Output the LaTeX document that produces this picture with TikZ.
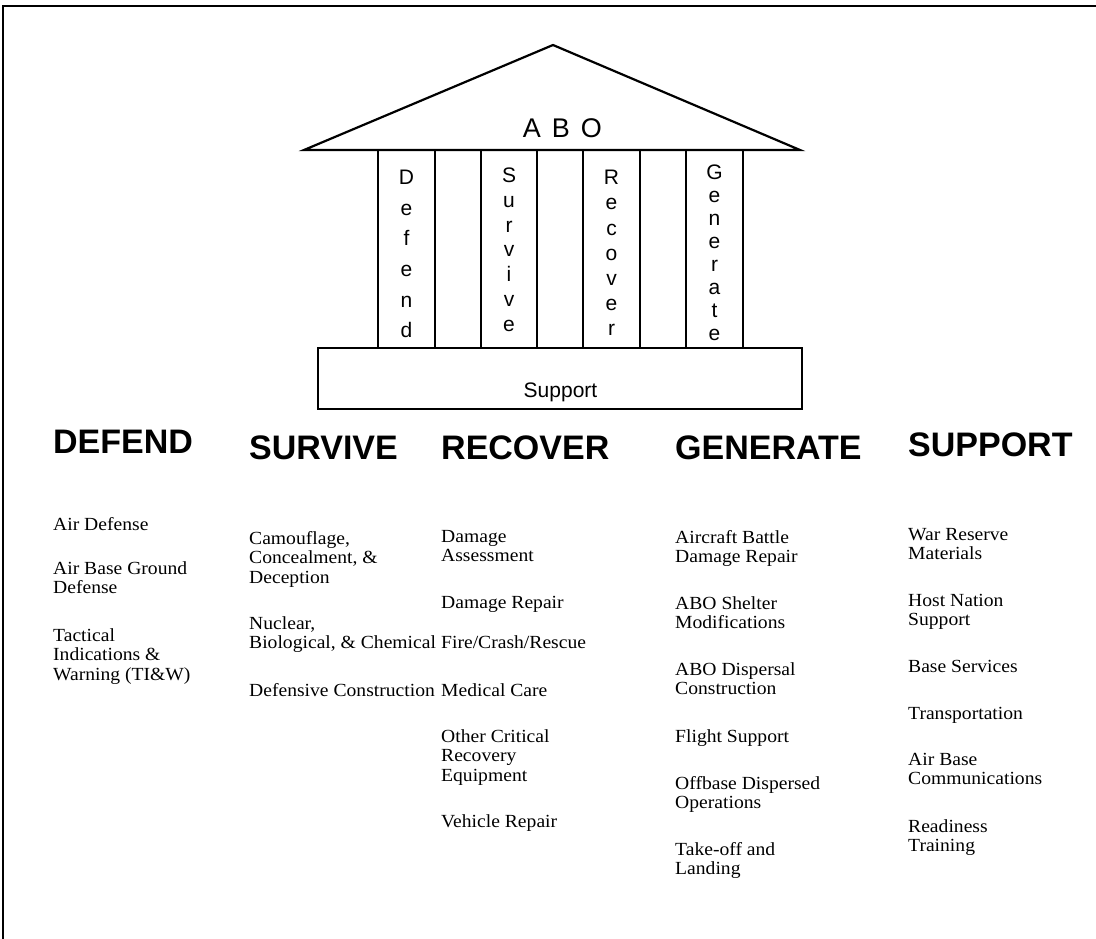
\documentclass[tikz,border=0pt]{standalone}
\usepackage{fontspec}
\setmainfont{Liberation Serif}
\newfontfamily\arial{Liberation Sans}
\newfontfamily\bodyfont[FakeStretch=1.06]{Liberation Serif}
\begin{document}
\begin{tikzpicture}[x=1pt,y=-1pt,
  outline/.style={draw=black,line width=2.2pt,line join=miter},
  colbox/.style={draw=black,line width=2pt},
  colletters/.style={inner sep=0pt,anchor=north,align=center},
  heading/.style={inner sep=0pt,anchor=west,font=\arial\bfseries\fontsize{34}{34}\selectfont},
  item/.style={inner sep=0pt,anchor=north west,align=left,font=\bodyfont\fontsize{18.5}{19.5}\selectfont}
]
\useasboundingbox (0,0) rectangle (1096,939);
% frame
\draw[line width=2pt] (1096,6) -- (3,6) -- (3,939);
% roof
\coordinate (roofL) at (304,150);
\coordinate (apex) at (553,45);
\coordinate (roofR) at (800,150);
\draw[outline] (roofL) -- (apex) -- (roofR) -- cycle;
\node[inner sep=0pt,font=\arial\fontsize{27}{27}\selectfont] (abo) at (562.5,128) {A\hspace{11pt}B\hspace{11pt}O};
% columns
\draw[colbox] (378,150) rectangle (435,348);
\draw[colbox] (481,150) rectangle (537,348);
\draw[colbox] (583,150) rectangle (640,348);
\draw[colbox] (686,150) rectangle (743,348);
\node[colletters,font=\arial\fontsize{21}{30.6}\selectfont] (cdef) at (406.5,170) {D\\e\\f\\e\\n\\d};
\node[colletters,font=\arial\fontsize{21}{24.7}\selectfont] (csur) at (509,168) {S\\u\\r\\v\\i\\v\\e};
\node[colletters,font=\arial\fontsize{21}{25.2}\selectfont] (crec) at (611.5,170) {R\\e\\c\\o\\v\\e\\r};
\node[colletters,font=\arial\fontsize{21}{22.9}\selectfont] (cgen) at (714.5,165) {G\\e\\n\\e\\r\\a\\t\\e};
% support base
\draw[colbox] (318,348) rectangle (802,409);
\node[inner sep=0pt,anchor=base,font=\arial\fontsize{21}{21}\selectfont] (sup) at (560.5,397) {Support};
% headings
\node[heading] (hdef) at (53,442) {DEFEND};
\node[heading] (hsur) at (249,448) {SURVIVE};
\node[heading] (hrec) at (441,448) {RECOVER};
\node[heading] (hgen) at (675,448) {GENERATE};
\node[heading] (hsup) at (908,445) {SUPPORT};
% DEFEND items
\node[item] (d1) at (53,517) {Air Defense};
\node[item] (d2) at (53,561) {Air Base Ground\\Defense};
\node[item] (d3) at (53,628) {Tactical\\Indications \&\\Warning (TI\&W)};
% SURVIVE items
\node[item] (s1) at (249,531) {Camouflage,\\Concealment, \&\\Deception};
\node[item] (s2) at (249,616) {Nuclear,\\Biological, \& Chemical};
\node[item] (s3) at (249,683) {Defensive Construction};
% RECOVER items
\node[item] (r1) at (441,530) {Damage\\Assessment};
\node[item] (r2) at (441,596) {Damage Repair};
\node[item] (r3) at (441,635) {Fire/Crash/Rescue};
\node[item] (r4) at (441,683) {Medical Care};
\node[item] (r5) at (441,729) {Other Critical\\Recovery\\Equipment};
\node[item] (r6) at (441,814) {Vehicle Repair};
% GENERATE items
\node[item] (g1) at (675,530) {Aircraft Battle\\Damage Repair};
\node[item] (g2) at (675,596) {ABO Shelter\\Modifications};
\node[item] (g3) at (675,662) {ABO Dispersal\\Construction};
\node[item] (g4) at (675,729) {Flight Support};
\node[item] (g5) at (675,776) {Offbase Dispersed\\Operations};
\node[item] (g6) at (675,842) {Take-off and\\Landing};
% SUPPORT items
\node[item] (p1) at (908,528) {War Reserve\\Materials};
\node[item] (p2) at (908,594) {Host Nation\\Support};
\node[item] (p3) at (908,660) {Base Services};
\node[item] (p4) at (908,707) {Transportation};
\node[item] (p5) at (908,753) {Air Base\\Communications};
\node[item] (p6) at (908,819) {Readiness\\Training};
\end{tikzpicture}
\end{document}
